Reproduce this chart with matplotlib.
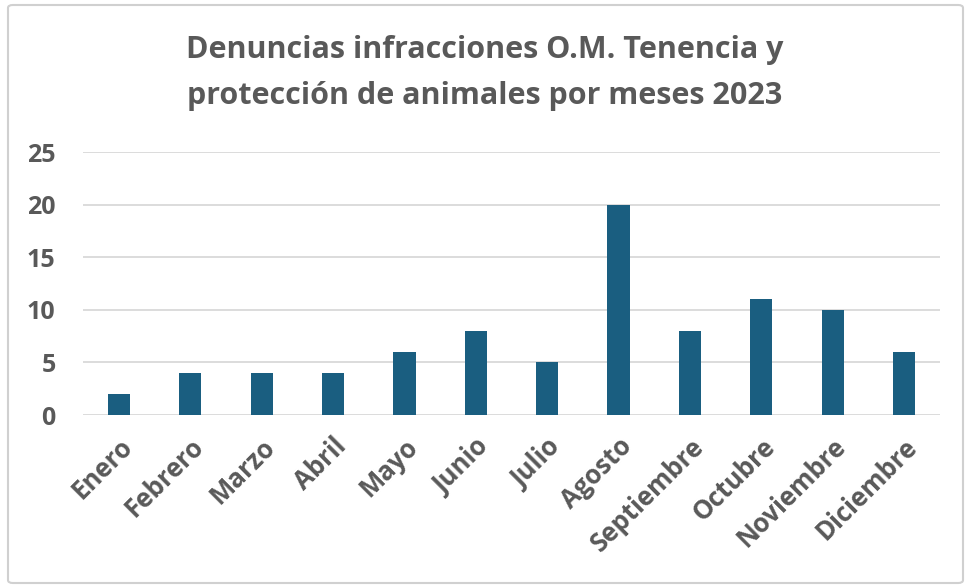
import matplotlib
matplotlib.use("Agg")
import matplotlib.pyplot as plt
from matplotlib.patches import FancyBboxPatch

meses = ["Enero", "Febrero", "Marzo", "Abril", "Mayo", "Junio", "Julio",
         "Agosto", "Septiembre", "Octubre", "Noviembre", "Diciembre"]
denuncias = [2, 4, 4, 4, 6, 8, 5, 20, 8, 11, 10, 6]
yticks = [0, 5, 10, 15, 20, 25]

plt.rcParams['font.family'] = ['Open Sans', 'DejaVu Sans']
txt = "#595959"

fig = plt.figure(figsize=(9.65, 5.86), dpi=100)
fig.patch.set_facecolor("white")
border = FancyBboxPatch((8/965, 3/586), 955/965, 578/586,
                        boxstyle="round,pad=0,rounding_size=0.005",
                        transform=fig.transFigure, fill=False,
                        edgecolor="#D0D0D0", linewidth=1.5)
fig.patches.append(border)

ax = fig.add_axes([0.0863, 0.2918, 0.8875, 0.4488])
x = range(len(meses))
ax.bar(x, denuncias, width=0.31, color="#1A5E80", zorder=3)
ax.set_xlim(-0.5, len(meses) - 0.5)
ax.set_ylim(0, 25)
ax.set_yticks(yticks)
ax.set_yticklabels([str(v) for v in yticks], fontsize=18, fontweight="bold", color=txt)
ax.set_xticks(list(x))
ax.set_xticklabels(meses, rotation=45, ha="right", rotation_mode="anchor",
                   fontsize=18.5, fontweight="bold", color=txt)
ax.grid(axis="y", color="#D9D9D9", linewidth=1.3, zorder=0)
for s in ax.spines.values():
    s.set_visible(False)
ax.tick_params(axis="both", length=0)
ax.tick_params(axis="y", pad=20)
ax.tick_params(axis="x", pad=13)

fig.text(0.502, 0.875, "Denuncias infracciones O.M. Tenencia y\nprotección de animales por meses 2023",
         ha="center", va="center", fontsize=22, fontweight="bold", color=txt,
         linespacing=1.7)

fig.savefig("out.png", dpi=100)
